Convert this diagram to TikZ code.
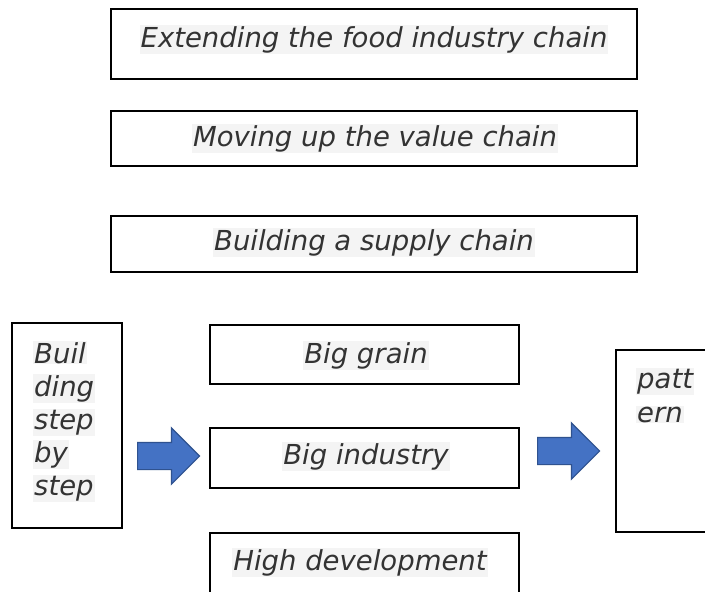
\documentclass[tikz,border=0pt]{standalone}
\usepackage{fontspec}
\setmainfont{DejaVu Sans}
\usetikzlibrary{shapes.arrows}
\definecolor{txtgray}{HTML}{333333}
\definecolor{hlgray}{HTML}{F4F4F4}
\definecolor{arrowblue}{HTML}{4472C4}
\definecolor{arrowedge}{HTML}{2F528F}
\tikzstyle{box_normal} = [draw, line width=1.5pt, inner sep=0pt]
\tikzstyle{text_normal} = [font=\fontsize{27.5}{33}\selectfont\itshape, text=txtgray, fill=hlgray, inner sep=1pt]
\tikzstyle{arrow_block} = [single arrow, fill=arrowblue, draw=arrowedge, line width=1.2pt, inner xsep=0pt, inner ysep=13pt, minimum height=62pt, minimum width=55pt, single arrow head extend=14.5pt, anchor=tail]

\begin{document}
\begin{tikzpicture}[x=1pt,y=-1pt]
\clip (0,0) rectangle (705,592);
\fill[white] (0,0) rectangle (705,592);
% chain boxes
\node (extend) at (374,44) [box_normal, minimum width=526pt, minimum height=70pt] {};
\node (moving) at (374,138.5) [box_normal, minimum width=526pt, minimum height=55pt] {};
\node (supply) at (374,244) [box_normal, minimum width=526pt, minimum height=56pt] {};
\node (extendtxt) at (374,47) [text_normal, anchor=base] {Extending the food industry chain};
\node (movingtxt) at (375,146) [text_normal, anchor=base] {Moving up the value chain};
\node (supplytxt) at (374,250) [text_normal, anchor=base] {Building a supply chain};
% lower row
\node (step) at (67,425.5) [box_normal, minimum width=110pt, minimum height=205pt] {};
\node (grain) at (364.5,354.5) [box_normal, minimum width=309pt, minimum height=59pt] {};
\node (industry) at (364.5,458) [box_normal, minimum width=309pt, minimum height=60pt] {};
\node (develop) at (364.5,563) [box_normal, minimum width=309pt, minimum height=60pt] {};
\node (pattern) at (666,441) [box_normal, minimum width=100pt, minimum height=182pt] {};
\node (graintxt) at (366,363) [text_normal, anchor=base] {Big grain};
\node (industrytxt) at (366,464) [text_normal, anchor=base] {Big industry};
\node (developtxt) at (360,570) [text_normal, anchor=base] {High development};
\foreach \word [count=\i] in {Buil,ding,step,by,step}
  \node (steptxt\i) at (33,{363+(\i-1)*33}) [text_normal, anchor=base west] {\word};
\node (patterntxt1) at (636,388) [text_normal, anchor=base west] {patt};
\node (patterntxt2) at (636,422) [text_normal, anchor=base west] {ern};
% arrows
\node (arrowA) at (137,456) [arrow_block] {};
\node (arrowB) at (537,451) [arrow_block] {};
\end{tikzpicture}
\end{document}
